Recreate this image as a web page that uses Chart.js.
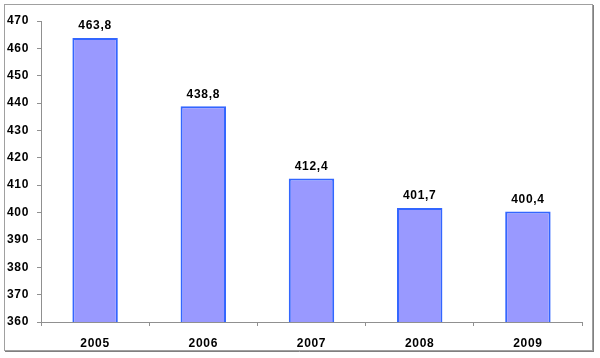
<!DOCTYPE html>
<html>
<head>
<meta charset="utf-8">
<script src="https://cdn.jsdelivr.net/npm/chart.js@4"></script>
<style>
html,body{margin:0;padding:0;background:#fff;}
#wrap{width:600px;height:358px;position:relative;}
</style>
</head>
<body>
<div id="wrap"><canvas id="c" width="600" height="358"></canvas></div>
<script>
const categories = ["2005", "2006", "2007", "2008", "2009"];
const values = [463.8, 438.8, 412.4, 401.7, 400.4];
const yMin = 360;
const yMax = 470;
const yStep = 10;

const frame = {
  id: 'frame',
  beforeDraw(chart) {
    const ctx = chart.ctx;
    ctx.save();
    ctx.fillStyle = '#fff';
    ctx.fillRect(0, 0, chart.width, chart.height);
    ctx.strokeStyle = '#a0a0a0';
    ctx.lineWidth = 1;
    ctx.strokeRect(4.5, 4.5, 588, 346);
    ctx.strokeStyle = '#808080';
    ctx.beginPath();
    ctx.moveTo(593.5, 5); ctx.lineTo(593.5, 352);
    ctx.moveTo(5, 351.5); ctx.lineTo(594, 351.5);
    ctx.stroke();
    ctx.restore();
    if ('letterSpacing' in ctx) ctx.letterSpacing = '0.7px';
  }
};

const valueLabels = {
  id: 'valueLabels',
  afterDatasetsDraw(chart) {
    const ctx = chart.ctx;
    const meta = chart.getDatasetMeta(0);
    ctx.save();
    ctx.font = 'bold 12px "Liberation Sans", Arial, sans-serif';
    ctx.fillStyle = '#000';
    ctx.textAlign = 'center';
    ctx.textBaseline = 'bottom';
    meta.data.forEach((bar, i) => {
      const txt = values[i].toFixed(1).replace('.', ',');
      ctx.fillText(txt, bar.x, bar.y - 6);
    });
    ctx.restore();
  }
};

new Chart(document.getElementById('c'), {
  type: 'bar',
  data: {
    labels: categories,
    datasets: [{
      data: values,
      backgroundColor: '#9999ff',
      borderColor: '#3366ff',
      borderWidth: 2,
      borderSkipped: false,
      categoryPercentage: 1,
      barPercentage: 0.42
    }]
  },
  options: {
    responsive: false,
    animation: false,
    devicePixelRatio: 1,
    layout: { padding: { left: 0, right: 18, top: 21, bottom: 0 } },
    plugins: { legend: { display: false }, tooltip: { enabled: false } },
    scales: {
      x: {
        grid: { display: true, drawOnChartArea: false, drawTicks: true, tickLength: 4, color: '#909090', offset: true },
        border: { display: true, color: '#909090', width: 1 },
        ticks: { color: '#000', font: { family: '"Liberation Sans", Arial, sans-serif', size: 12, weight: 'bold' }, padding: 10, maxRotation: 0 },
        afterFit(scale) { scale.height = 36; }
      },
      y: {
        min: yMin, max: yMax,
        grid: { display: true, drawOnChartArea: false, drawTicks: true, tickLength: 4, color: '#909090' },
        border: { display: true, color: '#909090', width: 1 },
        ticks: { stepSize: yStep, color: '#000', font: { family: '"Liberation Sans", Arial, sans-serif', size: 12, weight: 'bold' }, padding: 8 },
        afterFit(scale) { scale.width = 41; }
      }
    }
  },
  plugins: [frame, valueLabels]
});
</script>
</body>
</html>
